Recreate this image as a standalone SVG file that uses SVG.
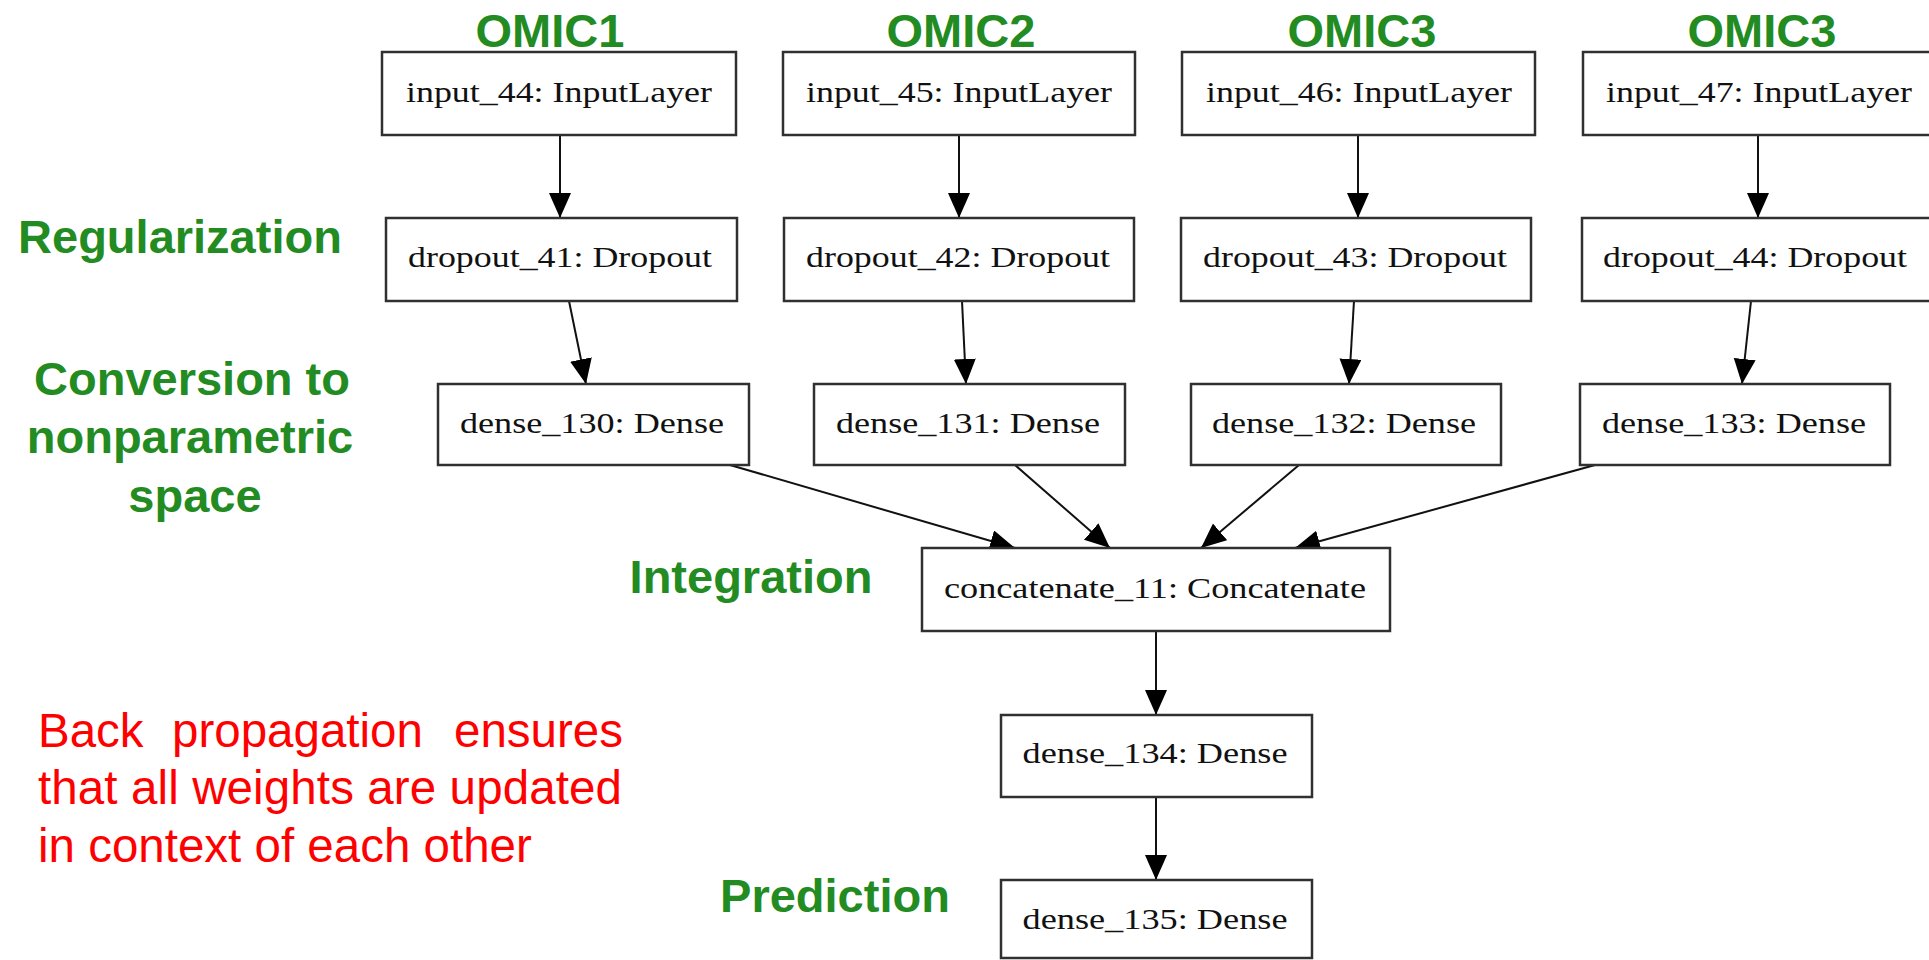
<svg xmlns="http://www.w3.org/2000/svg" width="1929" height="960" viewBox="0 0 1929 960">
  <style>
    .box { fill: #ffffff; stroke: #303030; stroke-width: 2.5; }
    .lbl { font-family: "Liberation Serif", "Times New Roman", serif; font-size: 29px; fill: #111111; text-anchor: middle; }
    .edge { stroke: #111111; stroke-width: 2; fill: none; marker-end: url(#head); }
    .stage { font-family: "Liberation Sans", Arial, sans-serif; font-weight: bold; font-size: 47px; fill: #228B22; text-anchor: middle; }
    .note { font-family: "Liberation Sans", Arial, sans-serif; font-size: 47.5px; fill: #FF0000; }
  </style>
  <defs>
    <marker id="head" markerUnits="userSpaceOnUse" markerWidth="27" markerHeight="24" refX="25" refY="11" orient="auto">
      <path d="M0,0 L25,11 L0,22 Z" fill="#000000"/>
    </marker>
  </defs>
  <rect width="1929" height="960" fill="#ffffff"/>

  <!-- stage captions -->
  <g id="captions">
    <text class="stage" x="550" y="47">OMIC1</text>
    <text class="stage" x="961" y="47">OMIC2</text>
    <text class="stage" x="1362" y="47">OMIC3</text>
    <text class="stage" x="1762" y="47">OMIC3</text>
    <text class="stage" x="180" y="253">Regularization</text>
    <text class="stage" x="192" y="395">Conversion to</text>
    <text class="stage" x="190" y="453">nonparametric</text>
    <text class="stage" x="195" y="512">space</text>
    <text class="stage" x="751" y="593">Integration</text>
    <text class="stage" x="835" y="912">Prediction</text>
  </g>

  <!-- note on training -->
  <g id="note">
    <text class="note" y="747"><tspan x="38">Back</tspan><tspan x="172">propagation</tspan><tspan x="454">ensures</tspan></text>
    <text class="note" x="38" y="804" textLength="584" lengthAdjust="spacing">that all weights are updated</text>
    <text class="note" x="38" y="862">in context of each other</text>
  </g>

  <!-- connectors -->
  <g id="connectors">
    <line class="edge" x1="560" y1="135" x2="560" y2="218"/>
    <line class="edge" x1="959" y1="135" x2="959" y2="218"/>
    <line class="edge" x1="1358" y1="135" x2="1358" y2="218"/>
    <line class="edge" x1="1758" y1="135" x2="1758" y2="218"/>
    <line class="edge" x1="569" y1="301" x2="586" y2="384"/>
    <line class="edge" x1="962" y1="301" x2="966" y2="384"/>
    <line class="edge" x1="1354" y1="301" x2="1349" y2="384"/>
    <line class="edge" x1="1751" y1="301" x2="1742" y2="384"/>
    <line class="edge" x1="730" y1="465" x2="1015" y2="548"/>
    <line class="edge" x1="1015" y1="465" x2="1110" y2="548"/>
    <line class="edge" x1="1299" y1="465" x2="1201" y2="548"/>
    <line class="edge" x1="1595" y1="465" x2="1295" y2="548"/>
    <line class="edge" x1="1156" y1="631" x2="1156" y2="715"/>
    <line class="edge" x1="1156" y1="797" x2="1156" y2="880"/>
  </g>

  <!-- input layers -->
  <g id="input_44"><rect class="box" x="382" y="52" width="354" height="83"/><text class="lbl" x="559" y="102" textLength="306" lengthAdjust="spacingAndGlyphs">input_44: InputLayer</text></g>
  <g id="input_45"><rect class="box" x="783" y="52" width="352" height="83"/><text class="lbl" x="959" y="102" textLength="306" lengthAdjust="spacingAndGlyphs">input_45: InputLayer</text></g>
  <g id="input_46"><rect class="box" x="1182" y="52" width="353" height="83"/><text class="lbl" x="1359" y="102" textLength="306" lengthAdjust="spacingAndGlyphs">input_46: InputLayer</text></g>
  <g id="input_47"><rect class="box" x="1583" y="52" width="360" height="83"/><text class="lbl" x="1759" y="102" textLength="306" lengthAdjust="spacingAndGlyphs">input_47: InputLayer</text></g>

  <!-- dropout layers -->
  <g id="dropout_41"><rect class="box" x="386" y="218" width="351" height="83"/><text class="lbl" x="560" y="267" textLength="304" lengthAdjust="spacingAndGlyphs">dropout_41: Dropout</text></g>
  <g id="dropout_42"><rect class="box" x="784" y="218" width="350" height="83"/><text class="lbl" x="958" y="267" textLength="304" lengthAdjust="spacingAndGlyphs">dropout_42: Dropout</text></g>
  <g id="dropout_43"><rect class="box" x="1181" y="218" width="350" height="83"/><text class="lbl" x="1355" y="267" textLength="304" lengthAdjust="spacingAndGlyphs">dropout_43: Dropout</text></g>
  <g id="dropout_44"><rect class="box" x="1582" y="218" width="360" height="83"/><text class="lbl" x="1755" y="267" textLength="304" lengthAdjust="spacingAndGlyphs">dropout_44: Dropout</text></g>

  <!-- dense layers per branch -->
  <g id="dense_130"><rect class="box" x="438" y="384" width="311" height="81"/><text class="lbl" x="592" y="433" textLength="264" lengthAdjust="spacingAndGlyphs">dense_130: Dense</text></g>
  <g id="dense_131"><rect class="box" x="814" y="384" width="311" height="81"/><text class="lbl" x="968" y="433" textLength="264" lengthAdjust="spacingAndGlyphs">dense_131: Dense</text></g>
  <g id="dense_132"><rect class="box" x="1191" y="384" width="310" height="81"/><text class="lbl" x="1344" y="433" textLength="264" lengthAdjust="spacingAndGlyphs">dense_132: Dense</text></g>
  <g id="dense_133"><rect class="box" x="1580" y="384" width="310" height="81"/><text class="lbl" x="1734" y="433" textLength="264" lengthAdjust="spacingAndGlyphs">dense_133: Dense</text></g>

  <!-- merge and head -->
  <g id="concatenate_11"><rect class="box" x="922" y="548" width="468" height="83"/><text class="lbl" x="1155" y="598" textLength="422" lengthAdjust="spacingAndGlyphs">concatenate_11: Concatenate</text></g>
  <g id="dense_134"><rect class="box" x="1001" y="715" width="311" height="82"/><text class="lbl" x="1155" y="763" textLength="265" lengthAdjust="spacingAndGlyphs">dense_134: Dense</text></g>
  <g id="dense_135"><rect class="box" x="1001" y="880" width="311" height="78"/><text class="lbl" x="1155" y="929" textLength="265" lengthAdjust="spacingAndGlyphs">dense_135: Dense</text></g>
</svg>
